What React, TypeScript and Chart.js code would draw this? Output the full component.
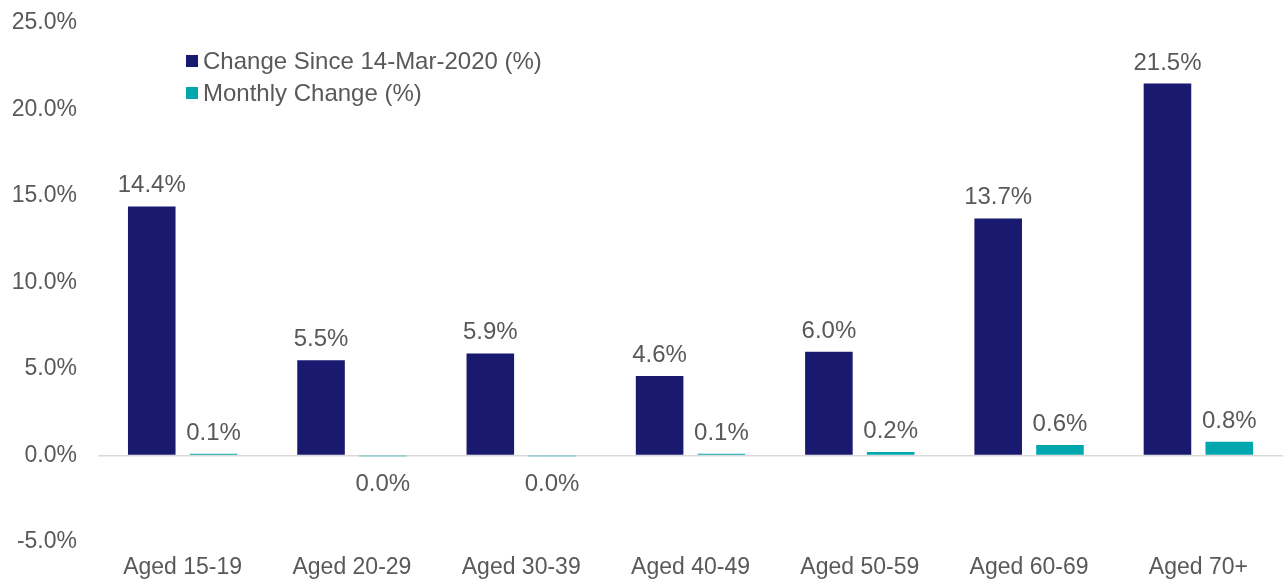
import React, { useEffect, useRef } from "react";
import { Chart, registerables } from "chart.js";

Chart.register(...registerables);

const categories = ["Aged 15-19", "Aged 20-29", "Aged 30-39", "Aged 40-49", "Aged 50-59", "Aged 60-69", "Aged 70+"];
const changeSince = [14.4, 5.5, 5.9, 4.6, 6.0, 13.7, 21.5];
const monthlyChange = [0.1, -0.02, -0.02, 0.1, 0.2, 0.6, 0.8];
const seriesNames = ["Change Since 14-Mar-2020 (%)", "Monthly Change (%)"];
const yTicks = [-5, 0, 5, 10, 15, 20, 25];

const NAVY = "#191970";
const TEAL = "#00A7AE";
const TEXT = "#595959";
const FONT = "'Liberation Sans', Arial, sans-serif";

const fmt = (v: number) => {
  let s = v.toFixed(1);
  if (s === "-0.0") s = "0.0";
  return s + "%";
};

const labelPlugin = {
  id: "labels",
  afterDatasetsDraw(chart: any) {
    const ctx = chart.ctx;
    ctx.save();
    ctx.font = `24px ${FONT}`;
    ctx.fillStyle = TEXT;
    ctx.textAlign = "center";
    chart.data.datasets.forEach((ds: any, di: number) => {
      const meta = chart.getDatasetMeta(di);
      meta.data.forEach((bar: any, i: number) => {
        const v = ds.data[i];
        if (v >= 0) {
          ctx.textBaseline = "alphabetic";
          ctx.fillText(fmt(v), bar.x, bar.y - 14);
        } else {
          ctx.textBaseline = "middle";
          ctx.fillText(fmt(v), bar.x, bar.base + 28);
        }
      });
    });
    // legend
    const items = [
      { name: seriesNames[0], color: NAVY },
      { name: seriesNames[1], color: TEAL },
    ];
    ctx.textAlign = "left";
    ctx.textBaseline = "middle";
    items.forEach((it, k) => {
      const cy = 61 + k * 32;
      ctx.fillStyle = it.color;
      ctx.fillRect(186, cy - 6, 12, 12);
      ctx.fillStyle = TEXT;
      ctx.fillText(it.name, 203, cy + 1);
    });
    ctx.restore();
  },
};

export default function App() {
  const ref = useRef<HTMLCanvasElement>(null);
  useEffect(() => {
    document.body.style.margin = "0";
    const chart = new Chart(ref.current!, {
      type: "bar",
      data: {
        labels: categories,
        datasets: [
          { label: seriesNames[0], data: changeSince, backgroundColor: NAVY, categoryPercentage: 0.73, barPercentage: 0.77 },
          { label: seriesNames[1], data: monthlyChange, backgroundColor: TEAL, categoryPercentage: 0.73, barPercentage: 0.77 },
        ],
      },
      options: {
        responsive: false,
        animation: false,
        layout: { padding: { top: 23, right: 0, bottom: 0, left: 0 } },
        plugins: { legend: { display: false }, tooltip: { enabled: false } },
        scales: {
          x: {
            grid: { display: false, drawTicks: false },
            border: { display: false },
            ticks: { color: TEXT, font: { family: FONT, size: 23 }, padding: 12, maxRotation: 0 },
            afterFit: (s: any) => { s.height = 39; s.paddingLeft = 0; s.paddingRight = 0; },
          },
          y: {
            min: -5,
            max: 25,
            afterBuildTicks: (s: any) => { s.ticks = yTicks.map((v) => ({ value: v })); },
            grid: {
              drawTicks: false,
              color: (c: any) => (c.tick && c.tick.value === 0 ? "#D9D9D9" : "rgba(0,0,0,0)"),
              lineWidth: 1.5,
            },
            border: { display: false },
            ticks: {
              color: TEXT,
              font: { family: FONT, size: 23 },
              padding: 21,
              callback: (v: any) => Number(v).toFixed(1) + "%",
            },
            afterFit: (s: any) => { s.width = 98; s.paddingTop = 0; s.paddingBottom = 0; },
          },
        },
      },
      plugins: [labelPlugin],
    });
    return () => chart.destroy();
  }, []);
  return <canvas ref={ref} width={1283} height={581} style={{ display: "block" }} />;
}
